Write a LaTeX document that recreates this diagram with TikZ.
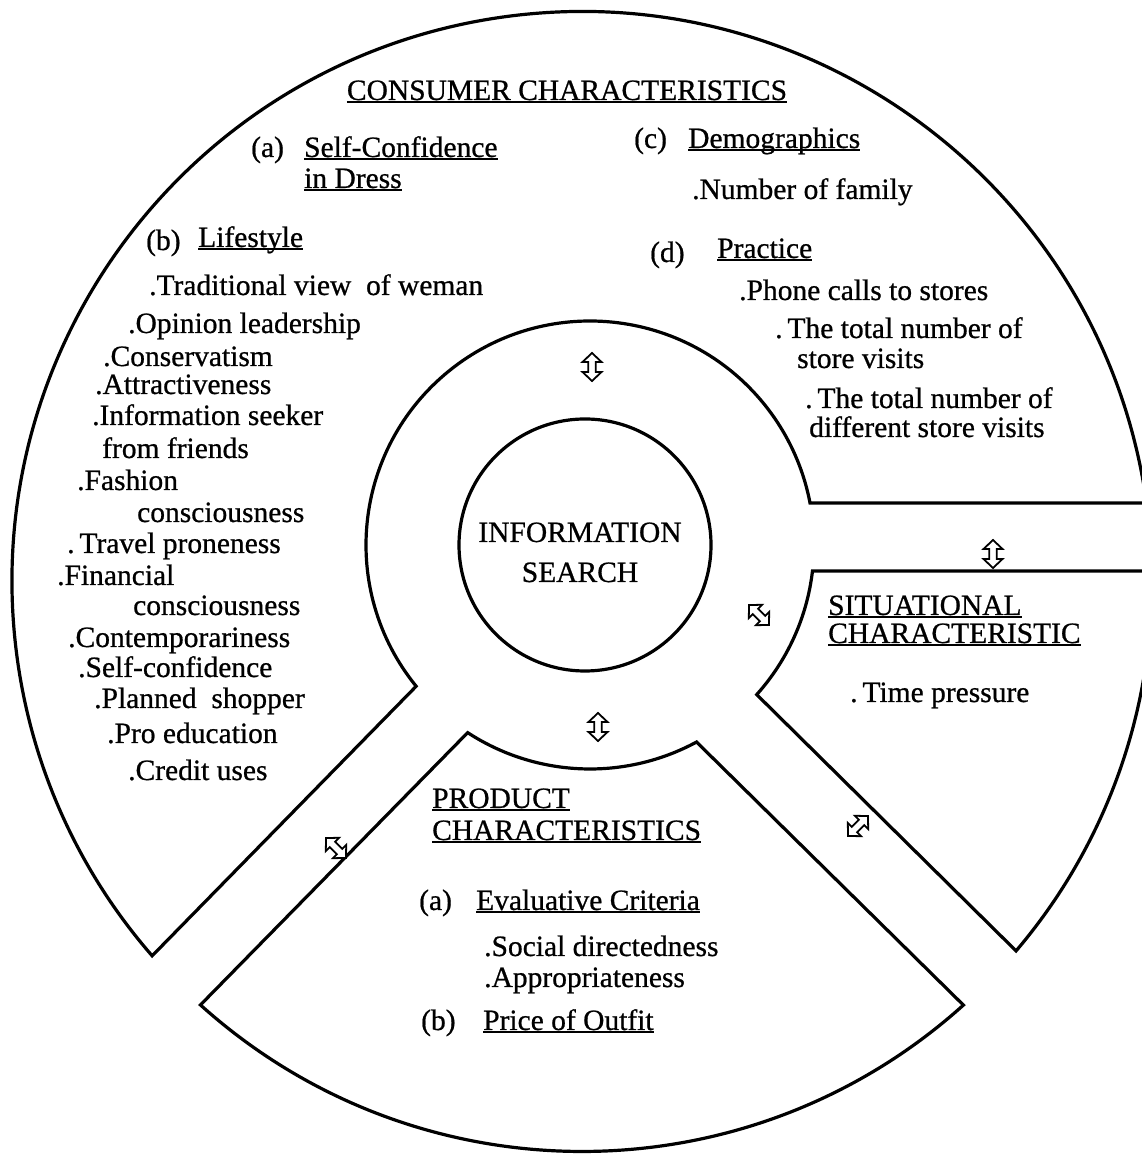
\documentclass[tikz,border=0pt]{standalone}
\usepackage{fontspec}
\setmainfont{Liberation Serif}[UprightFeatures={FakeBold=0.7}]
\usetikzlibrary{calc}
% underlined heading word(s): a rule just below the baseline, descenders ignored
\newcommand{\ulword}[1]{\setbox0=\hbox{#1}\rlap{\rule[-3pt]{\wd0}{1.9pt}}\box0}
\tikzset{
  region/.style={line width=3.2pt, line join=miter},
  txt/.style={anchor=base west, inner sep=0pt, font=\fontsize{29.5}{34}\selectfont},
  ctxt/.style={txt, anchor=base},
  dblarrow/.pic={
    \draw[line width=1.8pt, fill=white, line join=miter]
      (-14,0) -- (-5,9.5) -- (-5,3.8) -- (5,3.8) -- (5,9.5) -- (14,0)
      -- (5,-9.5) -- (5,-3.8) -- (-5,-3.8) -- (-5,-9.5) -- cycle;
    \coordinate (-c) at (0,0);
  }
}
\begin{document}
\begin{tikzpicture}[x=1pt,y=1pt]
\path[use as bounding box] (0,0) rectangle (1142,1154);
\clip (0,0) rectangle (1142,1154);
\fill[white] (0,0) rectangle (1142,1154);

% centres: outer disc, gap ring
\coordinate (O) at (582,572.5);
\coordinate (C) at (590,609);

% consumer characteristics (top and left)
\draw[region] ($(C)+(10.8:224)$) -- ($(O)+(7.92:570)$)
  arc[start angle=7.92, end angle=221.05, radius=570]
  -- ($(C)+(219.1:224)$)
  arc[start angle=219.1, end angle=10.8, radius=224] -- cycle;

% situational characteristic (right)
\draw[region] ($(C)+(-6.67:224)$) -- ($(O)+(1.06:570)$)
  arc[start angle=1.06, end angle=-40.4, radius=570]
  -- ($(C)+(-41.9:224)$)
  arc[start angle=-41.9, end angle=-6.67, radius=224] -- cycle;

% product characteristics (bottom)
\draw[region] ($(C)+(236.9:224)$) -- ($(O)+(227.98:570)$)
  arc[start angle=227.98, end angle=312, radius=570]
  -- ($(C)+(298.4:224)$)
  arc[start angle=298.4, end angle=236.9, radius=224] -- cycle;

% information search core
\node[circle, draw, line width=3.2pt, minimum size=252pt, inner sep=0pt] (core) at (585,609) {};
\node[ctxt] (coreA) at (580,612) {INFORMATION};
\node[ctxt] (coreB) at (580,572) {SEARCH};

% two-way influence arrows
\pic[rotate=90]  (arrTop)   at (592,787) {dblarrow};
\pic[rotate=90]  (arrBot)   at (598,427) {dblarrow};
\pic[rotate=90]  (arrRight) at (993,600) {dblarrow};
\pic[rotate=-45] (arrRing)  at (759,539) {dblarrow};
\pic[rotate=-45] (arrLeft)  at (336,306) {dblarrow};
\pic[rotate=45]  (arrLow)   at (858,328) {dblarrow};

% consumer characteristics text
\node[ctxt] (cons) at (567,1054) {\ulword{CONSUMER CHARACTERISTICS}};
\node[txt] (ca)  at (251,997) {(a)};
\node[txt] (ca1) at (304,997) {\ulword{Self-Confidence}};
\node[txt] (ca2) at (304,966) {\ulword{in Dress}};
\node[txt] (cc)  at (634,1006) {(c)};
\node[txt] (cc1) at (688,1006) {\ulword{Demographics}};
\node[txt] (cc2) at (692,955) {.Number of family};
\node[txt] (cb)  at (146,904) {(b)};
\node[txt] (cb1) at (198,907) {\ulword{Lifestyle}};
\node[txt] (cd)  at (650,892) {(d)};
\node[txt] (cd1) at (717,896) {\ulword{Practice}};

\node[txt] (l1)  at (149,859) {.Traditional view\ \ of weman};
\node[txt] (l2)  at (128,821) {.Opinion leadership};
\node[txt] (l3)  at (103,788) {.Conservatism};
\node[txt] (l4)  at (95,760)  {.Attractiveness};
\node[txt] (l5)  at (92,729)  {.Information seeker};
\node[txt] (l6)  at (102,696) {from friends};
\node[txt] (l7)  at (77,664)  {.Fashion};
\node[txt] (l8)  at (137,632) {consciousness};
\node[txt] (l9)  at (67,601)  {.\,Travel proneness};
\node[txt] (l10) at (57,569)  {.Financial};
\node[txt] (l11) at (133,539) {consciousness};
\node[txt] (l12) at (68,507)  {.Contemporariness};
\node[txt] (l13) at (78,477)  {.Self-confidence};
\node[txt] (l14) at (94,446)  {.Planned\ \ shopper};
\node[txt] (l15) at (107,411) {.Pro education};
\node[txt] (l16) at (128,374) {.Credit uses};

\node[txt] (p1) at (739,854) {.Phone calls to stores};
\node[txt] (p2) at (775,816) {.\,The total number of};
\node[txt] (p3) at (797,786) {store visits};
\node[txt] (p4) at (805,746) {.\,The total number of};
\node[txt] (p5) at (809,717) {different store visits};

% situational characteristic text
\node[txt] (s1) at (828,539) {\ulword{SITUATIONAL}};
\node[txt] (s2) at (828,511) {\ulword{CHARACTERISTIC}};
\node[txt] (s3) at (850,452) {.\,Time pressure};

% product characteristics text
\node[txt] (r1) at (432,346) {\ulword{PRODUCT}};
\node[txt] (r2) at (432,314) {\ulword{CHARACTERISTICS}};
\node[txt] (ra)  at (419,244) {(a)};
\node[txt] (ra1) at (476,244) {\ulword{Evaluative Criteria}};
\node[txt] (ra2) at (484,198) {.Social directedness};
\node[txt] (ra3) at (484,167) {.Appropriateness};
\node[txt] (rb)  at (421,124) {(b)};
\node[txt] (rb1) at (483,124) {\ulword{Price of Outfit}};
\end{tikzpicture}
\end{document}
